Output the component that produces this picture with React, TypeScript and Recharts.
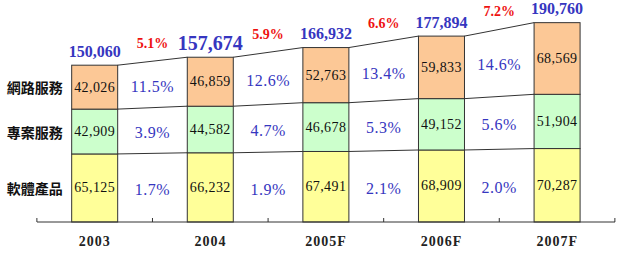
import React from 'react';
import { BarChart, Bar, XAxis, YAxis } from 'recharts';

// 軟體產業產值 (單位：百萬元)
const years = ['2003', '2004', '2005F', '2006F', '2007F'];
const software = [65125, 66232, 67491, 68909, 70287];
const project = [42909, 44582, 46678, 49152, 51904];
const network = [42026, 46859, 52763, 59833, 68569];
const totals = [150060, 157674, 166932, 177894, 190760];

// 年成長率
const totalGrowth = ['5.1%', '5.9%', '6.6%', '7.2%'];
const softwareGrowth = ['1.7%', '1.9%', '2.1%', '2.0%'];
const projectGrowth = ['3.9%', '4.7%', '5.3%', '5.6%'];
const networkGrowth = ['11.5%', '12.6%', '13.4%', '14.6%'];

const seriesNames = ['軟體產品', '專案服務', '網路服務'];
const seriesValues = [software, project, network];
const seriesGrowth = [softwareGrowth, projectGrowth, networkGrowth];
const seriesFills = ['#ffff99', '#ccffcc', '#fcc896'];

const W = 620;
const H = 258;
const MARGIN = { top: 13, right: 5, bottom: 0, left: 37 };
const BAND = (W - MARGIN.left - MARGIN.right) / years.length;

const SERIF = '"Liberation Serif", "Times New Roman", serif';
const CJK = '"Noto Sans CJK TC", "Noto Sans CJK SC", sans-serif';
const BLUE = '#3636c0';
const RED = '#ee1111';
const LINE = '#333';

const data = years.map((year, i) => ({
  year,
  software: software[i],
  project: project[i],
  network: network[i],
  total: totals[i],
}));

const fmt = (v: number) => v.toLocaleString('en-US');

const lowerSum = (s: number, i: number) => {
  let sum = 0;
  for (let k = 0; k < s; k++) sum += seriesValues[k][i];
  return sum;
};

const makeShape = (s: number) => (props: any) => {
  const { x, y, width, height, index } = props;
  const vals = seriesValues[s];
  const ratio = height / vals[index];
  const baseline = y + height + lowerSum(s, index) * ratio;
  const cx = x + width / 2;
  const hasNext = index < years.length - 1;
  let nextTop = 0;
  let nextBottom = 0;
  if (hasNext) {
    nextBottom = baseline - lowerSum(s, index + 1) * ratio;
    nextTop = nextBottom - vals[index + 1] * ratio;
  }
  const gapX = x + width / 2 + BAND / 2;

  return (
    <g>
      <rect x={x} y={y} width={width} height={height} fill={seriesFills[s]} stroke={LINE} strokeWidth={1} />
      <text
        x={cx}
        y={y + height / 2}
        textAnchor="middle"
        dominantBaseline="central"
        fontFamily={SERIF}
        fontSize={14}
        letterSpacing={0.4}
        fill="#111"
      >
        {fmt(vals[index])}
      </text>
      {index === 0 && (
        <text
          x={x - 9}
          y={y + height / 2}
          textAnchor="end"
          dominantBaseline="central"
          fontFamily={CJK}
          fontWeight="bold"
          fontSize={14}
          fill="#111"
        >
          {seriesNames[s]}
        </text>
      )}
      {/* category boundary ticks on the axis */}
      {s === 0 && (
        <>
          <line x1={cx - BAND / 2} y1={baseline} x2={cx - BAND / 2} y2={baseline - 4} stroke={LINE} />
          {!hasNext && (
            <line x1={cx + BAND / 2} y1={baseline} x2={cx + BAND / 2} y2={baseline - 4} stroke={LINE} />
          )}
        </>
      )}
      {hasNext && (
        <>
          <line x1={x + width} y1={y} x2={x + BAND} y2={nextTop} stroke={LINE} strokeWidth={1} />
          <text
            x={gapX}
            y={(y + y + height + nextTop + nextBottom) / 4 + 2}
            textAnchor="middle"
            dominantBaseline="central"
            fontFamily={SERIF}
            fontSize={16}
            letterSpacing={0.5}
            fill={BLUE}
          >
            {seriesGrowth[s][index]}
          </text>
        </>
      )}
      {s === seriesValues.length - 1 && (
        <>
          <text
            x={cx}
            y={y - 14}
            textAnchor="middle"
            dominantBaseline="central"
            fontFamily={SERIF}
            fontWeight="bold"
            fontSize={index === 1 ? 20 : 16}
            fill={BLUE}
          >
            {fmt(totals[index])}
          </text>
          {hasNext && (
            <text
              x={gapX}
              y={(y + nextTop) / 2 - 18}
              textAnchor="middle"
              dominantBaseline="central"
              fontFamily={SERIF}
              fontWeight="bold"
              fontSize={14}
              fill={RED}
            >
              {totalGrowth[index]}
            </text>
          )}
        </>
      )}
    </g>
  );
};

const YearTick = (props: any) => {
  const { x, y, payload } = props;
  return (
    <text
      x={x}
      y={y + 11}
      textAnchor="middle"
      dominantBaseline="central"
      fontFamily={SERIF}
      fontWeight="bold"
      fontSize={14}
      letterSpacing={1}
      fill="#222"
    >
      {payload.value}
    </text>
  );
};

export default function App() {
  return (
    <div style={{ position: 'absolute', left: 0, top: 0, width: W, height: H, background: '#fff' }}>
      <BarChart width={W} height={H} data={data} margin={MARGIN} barCategoryGap="30%">
        <XAxis
          dataKey="year"
          height={36}
          axisLine={{ stroke: LINE }}
          tickLine={false}
          tick={<YearTick />}
          interval={0}
        />
        <YAxis hide domain={[0, 200000]} />
        <Bar dataKey="software" stackId="a" shape={makeShape(0)} isAnimationActive={false} />
        <Bar dataKey="project" stackId="a" shape={makeShape(1)} isAnimationActive={false} />
        <Bar dataKey="network" stackId="a" shape={makeShape(2)} isAnimationActive={false} />
      </BarChart>
    </div>
  );
}
